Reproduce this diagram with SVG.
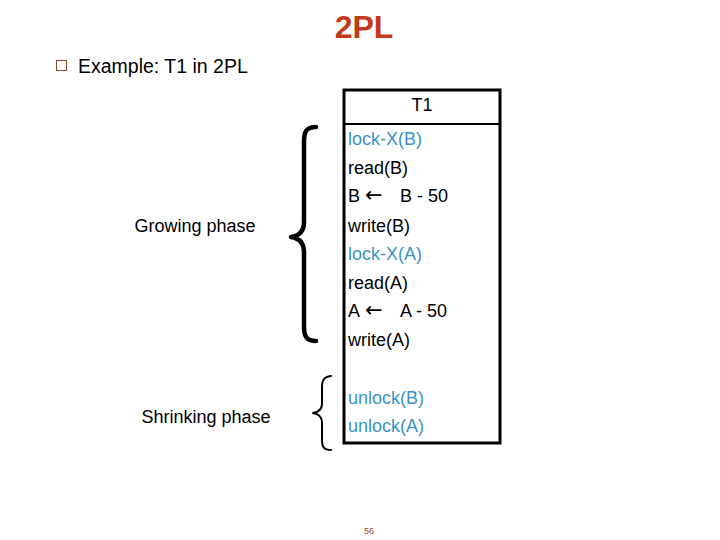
<svg xmlns="http://www.w3.org/2000/svg" width="720" height="540" viewBox="0 0 720 540">
<style>
  text { font-family: "Liberation Sans", Arial, sans-serif; }
  .t { font-size: 18px; fill: #000; }
  .b { font-size: 18px; fill: #3a93c4; }
  .arr { font-family: "DejaVu Sans", sans-serif; font-size: 21px; }
  .brace { fill: none; stroke: #000; stroke-linecap: round; stroke-linejoin: round; }
</style>
<rect width="720" height="540" fill="#fff"/>
<g id="title">
  <text x="364" y="38" text-anchor="middle" font-size="32" font-weight="bold" fill="#c33a1a">2PL</text>
</g>
<g id="bullet">
  <rect x="56.5" y="60.5" width="10" height="10" fill="none" stroke="#8a4a30" stroke-width="1"/>
  <text x="78" y="73" font-size="19.5" fill="#000">Example: T1 in 2PL</text>
</g>
<g id="table">
  <rect x="344" y="90" width="156" height="353" fill="none" stroke="#000" stroke-width="3"/>
  <line x1="344" y1="124" x2="500" y2="124" stroke="#000" stroke-width="2"/>
  <text class="t" x="422" y="111" text-anchor="middle">T1</text>
  <text class="b" x="348" y="145">lock-X(B)</text>
  <text class="t" x="348" y="174">read(B)</text>
  <text class="t" x="348" y="202">B<tspan class="arr" x="365">←</tspan><tspan x="400">B - 50</tspan></text>
  <text class="t" x="348" y="232">write(B)</text>
  <text class="b" x="348" y="260">lock-X(A)</text>
  <text class="t" x="348" y="289">read(A)</text>
  <text class="t" x="348" y="317">A<tspan class="arr" x="365">←</tspan><tspan x="400">A - 50</tspan></text>
  <text class="t" x="348" y="346">write(A)</text>
  <text class="b" x="348" y="404">unlock(B)</text>
  <text class="b" x="348" y="432">unlock(A)</text>
</g>
<g id="growing">
  <path class="brace" stroke-width="4.5" d="M316,127 C306,127 304,132 304,142 L304,222 C304,232 298,236 291,237 C298,238 304,242 304,252 L304,326 C304,336 306,341 316,341"/>
  <text class="t" x="195" y="232" text-anchor="middle">Growing phase</text>
</g>
<g id="shrinking">
  <path class="brace" stroke-width="2" d="M331,376 C324,377 322,380 322,387 L322,404 C322,410 318,412 313,413 C318,414 322,416 322,422 L322,440 C322,447 324,450 331,450"/>
  <text class="t" x="206" y="423" text-anchor="middle">Shrinking phase</text>
</g>
<g id="page">
  <text x="369" y="534" text-anchor="middle" font-size="9" fill="#9a4a2a">56</text>
</g>
</svg>
